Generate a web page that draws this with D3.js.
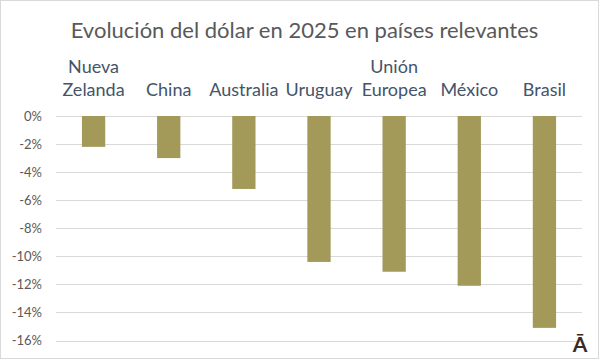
<!DOCTYPE html>
<html lang="es">
<head>
<meta charset="UTF-8">
<title>Evolución del dólar en 2025</title>
<script src="https://d3js.org/d3.v7.min.js"></script>
<style>
  body { margin: 0; background: #fff; }
  svg text { font-family: Lato, "Open Sans", sans-serif; }
  .grid line { stroke: #d9d9d9; stroke-width: 1; }
  .tick-label { font-size: 13px; fill: #595959; }
  .cat-label { font-size: 18px; fill: #44546a; }
</style>
</head>
<body>
<div id="chart"></div>
<script>
  const categories = [["Nueva", "Zelanda"], ["China"], ["Australia"], ["Uruguay"], ["Unión", "Europea"], ["México"], ["Brasil"]];
  const values = [-2.2, -3.0, -5.2, -10.4, -11.1, -12.1, -15.1];
  const tickValues = [0, -2, -4, -6, -8, -10, -12, -14, -16];

  const width = 601, height = 361;
  const plotLeft = 56, plotRight = 582, plotTop = 116, plotBottom = 340.5;

  const svg = d3.select("#chart").append("svg")
    .attr("width", width)
    .attr("height", height);

  // outer border
  svg.append("rect")
    .attr("x", 0.5).attr("y", 0.5)
    .attr("width", width - 3).attr("height", height - 3)
    .attr("fill", "#fff")
    .attr("stroke", "#d9d9d9");

  svg.append("text")
    .attr("x", 304.5)
    .attr("y", 38)
    .attr("text-anchor", "middle")
    .style("font-size", "22px")
    .style("fill", "#595959")
    .text("Evolución del dólar en 2025 en países relevantes");

  const x = d3.scaleBand()
    .domain(d3.range(categories.length))
    .range([plotLeft, plotRight])
    .paddingInner(0.69)
    .paddingOuter(0.345);

  const y = d3.scaleLinear()
    .domain([0, -16])
    .range([plotTop, plotBottom]);

  const grid = svg.append("g").attr("class", "grid");
  grid.selectAll("line")
    .data(tickValues)
    .join("line")
    .attr("x1", plotLeft)
    .attr("x2", plotRight)
    .attr("y1", d => Math.round(y(d)) + 0.5)
    .attr("y2", d => Math.round(y(d)) + 0.5);

  svg.append("g")
    .selectAll("text")
    .data(tickValues)
    .join("text")
    .attr("class", "tick-label")
    .attr("x", 42)
    .attr("y", d => y(d) + 4.5)
    .attr("text-anchor", "end")
    .text(d => d + "%");

  svg.append("g")
    .selectAll("rect")
    .data(values)
    .join("rect")
    .attr("x", (d, i) => x(i))
    .attr("width", x.bandwidth())
    .attr("y", y(0))
    .attr("height", d => y(d) - y(0))
    .attr("fill", "#a39a5a");

  // category labels above plot, bottom-aligned
  const labelBase = 96, lineH = 23;
  const cat = svg.append("g")
    .selectAll("text")
    .data(categories)
    .join("text")
    .attr("class", "cat-label")
    .attr("text-anchor", "middle");
  cat.each(function(lines, i) {
    const t = d3.select(this);
    lines.forEach((ln, j) => {
      t.append("tspan")
        .attr("x", x(i) + x.bandwidth() / 2)
        .attr("y", labelBase - (lines.length - 1 - j) * lineH)
        .text(ln);
    });
  });

  svg.append("text")
    .attr("x", 580)
    .attr("y", 352)
    .attr("text-anchor", "middle")
    .style("font-size", "21px")
    .style("font-weight", "bold")
    .style("fill", "#3a2a20")
    .text("Ā");
</script>
</body>
</html>
